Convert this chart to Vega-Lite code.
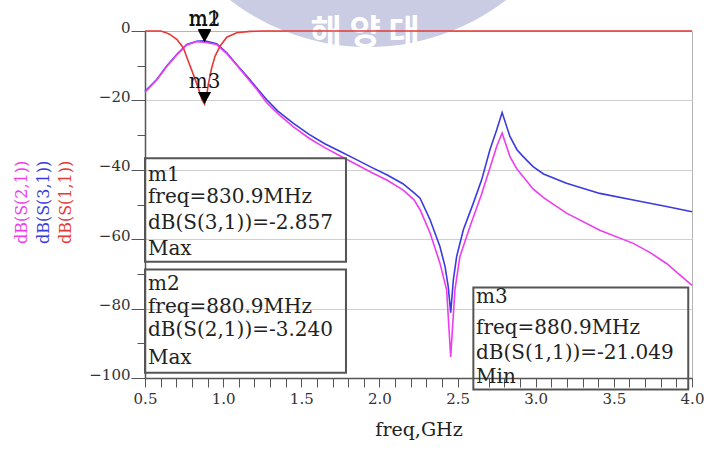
{
  "$schema": "https://vega.github.io/schema/vega-lite/v6.json",
  "width": 547,
  "height": 347,
  "autosize": {"type": "none"},
  "padding": {"left": 145, "top": 31, "right": 18, "bottom": 71},
  "background": "white",
  "config": {"view": {"stroke": "#b4b4b4", "strokeWidth": 1}, "font": "DejaVu Serif"},
  "datasets": {
    "curves": [
      {"trace": "S31", "f": 0.5, "dB": -17.4}, {"trace": "S31", "f": 0.575, "dB": -14.0}, {"trace": "S31", "f": 0.639, "dB": -10.1},
      {"trace": "S31", "f": 0.703, "dB": -6.8}, {"trace": "S31", "f": 0.767, "dB": -3.9}, {"trace": "S31", "f": 0.831, "dB": -2.95},
      {"trace": "S31", "f": 0.88, "dB": -2.86}, {"trace": "S31", "f": 0.959, "dB": -3.7}, {"trace": "S31", "f": 1.023, "dB": -6.3},
      {"trace": "S31", "f": 1.087, "dB": -9.7}, {"trace": "S31", "f": 1.151, "dB": -13.0}, {"trace": "S31", "f": 1.215, "dB": -16.4},
      {"trace": "S31", "f": 1.279, "dB": -19.8}, {"trace": "S31", "f": 1.35, "dB": -23.1}, {"trace": "S31", "f": 1.45, "dB": -26.6},
      {"trace": "S31", "f": 1.55, "dB": -29.8}, {"trace": "S31", "f": 1.65, "dB": -32.5}, {"trace": "S31", "f": 1.75, "dB": -34.7},
      {"trace": "S31", "f": 1.85, "dB": -37.0}, {"trace": "S31", "f": 1.95, "dB": -39.3}, {"trace": "S31", "f": 2.05, "dB": -41.5},
      {"trace": "S31", "f": 2.15, "dB": -44.0}, {"trace": "S31", "f": 2.22, "dB": -46.6}, {"trace": "S31", "f": 2.26, "dB": -48.2},
      {"trace": "S31", "f": 2.324, "dB": -54.4}, {"trace": "S31", "f": 2.387, "dB": -62.1}, {"trace": "S31", "f": 2.42, "dB": -67.9},
      {"trace": "S31", "f": 2.44, "dB": -73.6}, {"trace": "S31", "f": 2.456, "dB": -81.2}, {"trace": "S31", "f": 2.473, "dB": -71.7},
      {"trace": "S31", "f": 2.494, "dB": -65.0}, {"trace": "S31", "f": 2.537, "dB": -57.3}, {"trace": "S31", "f": 2.601, "dB": -49.6},
      {"trace": "S31", "f": 2.654, "dB": -42.9}, {"trace": "S31", "f": 2.707, "dB": -34.2}, {"trace": "S31", "f": 2.75, "dB": -28.5},
      {"trace": "S31", "f": 2.785, "dB": -23.5}, {"trace": "S31", "f": 2.835, "dB": -30.4}, {"trace": "S31", "f": 2.88, "dB": -34.2},
      {"trace": "S31", "f": 2.92, "dB": -36.2}, {"trace": "S31", "f": 2.983, "dB": -39.1}, {"trace": "S31", "f": 3.05, "dB": -41.2},
      {"trace": "S31", "f": 3.197, "dB": -43.9}, {"trace": "S31", "f": 3.41, "dB": -46.8}, {"trace": "S31", "f": 3.624, "dB": -48.7},
      {"trace": "S31", "f": 3.837, "dB": -50.6}, {"trace": "S31", "f": 4.0, "dB": -52.1},

      {"trace": "S21", "f": 0.5, "dB": -17.6}, {"trace": "S21", "f": 0.575, "dB": -14.1}, {"trace": "S21", "f": 0.639, "dB": -10.2},
      {"trace": "S21", "f": 0.703, "dB": -6.9}, {"trace": "S21", "f": 0.767, "dB": -4.0}, {"trace": "S21", "f": 0.831, "dB": -3.05},
      {"trace": "S21", "f": 0.881, "dB": -3.24}, {"trace": "S21", "f": 0.959, "dB": -3.9}, {"trace": "S21", "f": 1.023, "dB": -6.5},
      {"trace": "S21", "f": 1.087, "dB": -9.9}, {"trace": "S21", "f": 1.151, "dB": -13.3}, {"trace": "S21", "f": 1.215, "dB": -16.8},
      {"trace": "S21", "f": 1.279, "dB": -20.7}, {"trace": "S21", "f": 1.35, "dB": -23.8}, {"trace": "S21", "f": 1.45, "dB": -27.6},
      {"trace": "S21", "f": 1.55, "dB": -30.9}, {"trace": "S21", "f": 1.65, "dB": -33.6}, {"trace": "S21", "f": 1.75, "dB": -36.0},
      {"trace": "S21", "f": 1.85, "dB": -38.4}, {"trace": "S21", "f": 1.95, "dB": -40.8}, {"trace": "S21", "f": 2.05, "dB": -43.0},
      {"trace": "S21", "f": 2.15, "dB": -45.8}, {"trace": "S21", "f": 2.22, "dB": -48.6}, {"trace": "S21", "f": 2.26, "dB": -51.5},
      {"trace": "S21", "f": 2.324, "dB": -58.2}, {"trace": "S21", "f": 2.387, "dB": -66.9}, {"trace": "S21", "f": 2.43, "dB": -74.6},
      {"trace": "S21", "f": 2.456, "dB": -93.9}, {"trace": "S21", "f": 2.483, "dB": -74.6}, {"trace": "S21", "f": 2.515, "dB": -65.0},
      {"trace": "S21", "f": 2.58, "dB": -56.3}, {"trace": "S21", "f": 2.65, "dB": -47.5}, {"trace": "S21", "f": 2.7, "dB": -40.5},
      {"trace": "S21", "f": 2.75, "dB": -33.3}, {"trace": "S21", "f": 2.785, "dB": -29.4}, {"trace": "S21", "f": 2.835, "dB": -36.2},
      {"trace": "S21", "f": 2.88, "dB": -39.8}, {"trace": "S21", "f": 2.92, "dB": -42.0}, {"trace": "S21", "f": 2.983, "dB": -45.5},
      {"trace": "S21", "f": 3.05, "dB": -48.0}, {"trace": "S21", "f": 3.197, "dB": -52.5}, {"trace": "S21", "f": 3.41, "dB": -57.4},
      {"trace": "S21", "f": 3.624, "dB": -61.2}, {"trace": "S21", "f": 3.73, "dB": -63.8}, {"trace": "S21", "f": 3.837, "dB": -67.0},
      {"trace": "S21", "f": 4.0, "dB": -73.3},

      {"trace": "S11", "f": 0.5, "dB": 0}, {"trace": "S11", "f": 0.6, "dB": 0}, {"trace": "S11", "f": 0.63, "dB": -0.4},
      {"trace": "S11", "f": 0.66, "dB": -1.0}, {"trace": "S11", "f": 0.703, "dB": -2.4}, {"trace": "S11", "f": 0.745, "dB": -4.8},
      {"trace": "S11", "f": 0.777, "dB": -8.7}, {"trace": "S11", "f": 0.809, "dB": -12.5}, {"trace": "S11", "f": 0.841, "dB": -16.4},
      {"trace": "S11", "f": 0.865, "dB": -19.8}, {"trace": "S11", "f": 0.881, "dB": -21.049}, {"trace": "S11", "f": 0.895, "dB": -18.5},
      {"trace": "S11", "f": 0.905, "dB": -15.4}, {"trace": "S11", "f": 0.927, "dB": -10.6}, {"trace": "S11", "f": 0.948, "dB": -7.3},
      {"trace": "S11", "f": 0.98, "dB": -4.4}, {"trace": "S11", "f": 1.023, "dB": -1.8}, {"trace": "S11", "f": 1.087, "dB": -0.5},
      {"trace": "S11", "f": 1.172, "dB": -0.1}, {"trace": "S11", "f": 1.25, "dB": 0}, {"trace": "S11", "f": 2.0, "dB": 0},
      {"trace": "S11", "f": 3.0, "dB": 0}, {"trace": "S11", "f": 4.0, "dB": 0}
    ],
    "watermark": [{"f": 1.927, "dB": 60.5}],
    "wmtext": [{"f": 1.908, "dB": -3.8, "text": "해 양 대"}],
    "boxes": [
      {"box": "m1", "f": 0.5, "f2": 1.786, "dB": -36.7, "dB2": -66.5},
      {"box": "m2", "f": 0.5, "f2": 1.786, "dB": -68.7, "dB2": -98.5},
      {"box": "m3", "f": 2.601, "f2": 3.976, "dB": -73.9, "dB2": -103.3}
    ],
    "boxtext": [
      {"box": "m1", "f": 0.519, "dB": -41.5, "text": "m1"},
      {"box": "m1", "f": 0.519, "dB": -47.8, "text": "freq=830.9MHz"},
      {"box": "m1", "f": 0.519, "dB": -55.2, "text": "dB(S(3,1))=-2.857"},
      {"box": "m1", "f": 0.519, "dB": -62.8, "text": "Max"},
      {"box": "m2", "f": 0.519, "dB": -73.0, "text": "m2"},
      {"box": "m2", "f": 0.519, "dB": -79.5, "text": "freq=880.9MHz"},
      {"box": "m2", "f": 0.519, "dB": -86.2, "text": "dB(S(2,1))=-3.240"},
      {"box": "m2", "f": 0.519, "dB": -94.3, "text": "Max"},
      {"box": "m3", "f": 2.618, "dB": -76.6, "text": "m3"},
      {"box": "m3", "f": 2.618, "dB": -85.7, "text": "freq=880.9MHz"},
      {"box": "m3", "f": 2.618, "dB": -92.9, "text": "dB(S(1,1))=-21.049"},
      {"box": "m3", "f": 2.618, "dB": -99.6, "text": "Min"}
    ],
    "ytitles": [
      {"trace": "S21", "f": -0.287, "dB": -49.4, "text": "dB(S(2,1))"},
      {"trace": "S31", "f": -0.146, "dB": -49.4, "text": "dB(S(3,1))"},
      {"trace": "S11", "f": -0.005, "dB": -49.4, "text": "dB(S(1,1))"}
    ],
    "markers": [
      {"name": "m1", "f": 0.8809, "dB": -2.857},
      {"name": "m2", "f": 0.8809, "dB": -3.24},
      {"name": "m3", "f": 0.8809, "dB": -21.049}
    ]
  },
  "encoding": {
    "x": {
      "field": "f", "type": "quantitative",
      "scale": {"domain": [0.5, 4.0], "nice": false, "zero": false},
      "axis": {
        "title": "freq,GHz",
        "values": [0.5,0.6,0.7,0.8,0.9,1.0,1.1,1.2,1.3,1.4,1.5,1.6,1.7,1.8,1.9,2.0,2.1,2.2,2.3,2.4,2.5,2.6,2.7,2.8,2.9,3.0,3.1,3.2,3.3,3.4,3.5,3.6,3.7,3.8,3.9,4.0],
        "labelExpr": "abs(datum.value*2 - round(datum.value*2)) < 0.01 ? format(datum.value, '.1f') : ''",
        "grid": false,
        "tickSize": 9, "tickColor": "#555", "tickWidth": 1,
        "domainColor": "#555", "domainWidth": 1.5,
        "labelFont": "DejaVu Serif", "labelFontSize": 15, "labelColor": "#333", "labelPadding": 4,
        "labelOverlap": false, "labelFlush": false, "labelBound": false,
        "titleFont": "DejaVu Serif", "titleFontSize": 19, "titleFontWeight": "normal", "titleColor": "#222", "titlePadding": 14
      }
    },
    "y": {
      "field": "dB", "type": "quantitative",
      "scale": {"domain": [-100, 0], "nice": false, "zero": false},
      "axis": {
        "title": null,
        "values": [-100,-90,-80,-70,-60,-50,-40,-30,-20,-10,0],
        "labelExpr": "datum.value % 20 == 0 ? format(datum.value, 'd') : ''",
        "tickSize": {"condition": {"test": "datum.value % 20 == 0", "value": 14}, "value": 8},
        "tickColor": "#555",
        "grid": true,
        "gridColor": {"condition": {"test": "datum.value % 20 == 0 && datum.value > -100 && datum.value < 0", "value": "#cfcfcf"}, "value": "transparent"},
        "domainColor": "#555", "domainWidth": 1.5,
        "labelFont": "DejaVu Serif", "labelFontSize": 15, "labelColor": "#333",
        "labelPadding": 1, "labelBaseline": "middle", "labelOffset": -4,
        "labelOverlap": false, "labelBound": false, "labelFlush": false
      }
    }
  },
  "layer": [
    {
      "data": {"name": "watermark"},
      "mark": {"type": "point", "shape": "circle", "filled": true, "size": 204304, "color": "#c9cce3", "opacity": 1}
    },
    {
      "data": {"name": "wmtext"},
      "mark": {"type": "text", "font": "Noto Sans CJK KR", "fontSize": 34, "fontWeight": "bold", "color": "white", "align": "center", "baseline": "alphabetic"},
      "encoding": {"text": {"field": "text"}}
    },
    {
      "data": {"name": "curves"},
      "mark": {"type": "line", "strokeWidth": 1.6},
      "encoding": {
        "color": {"field": "trace", "type": "nominal", "scale": {"domain": ["S21", "S31", "S11"], "range": ["#f03cf0", "#3a3ae0", "#e53935"]}, "legend": null},
        "order": {"field": "f", "type": "quantitative"}
      }
    },
    {
      "data": {"name": "boxes"},
      "mark": {"type": "rect", "filled": false, "stroke": "#555", "strokeWidth": 2},
      "encoding": {"x2": {"field": "f2"}, "y2": {"field": "dB2"}}
    },
    {
      "data": {"name": "boxtext"},
      "mark": {"type": "text", "font": "DejaVu Serif", "fontSize": 20, "color": "#222", "align": "left", "baseline": "middle"},
      "encoding": {"text": {"field": "text"}}
    },
    {
      "data": {"name": "ytitles"},
      "mark": {"type": "text", "font": "DejaVu Serif", "fontSize": 16, "angle": 270, "align": "center", "baseline": "middle"},
      "encoding": {
        "text": {"field": "text"},
        "color": {"field": "trace", "type": "nominal", "legend": null}
      }
    },
    {
      "data": {"name": "markers"},
      "mark": {"type": "point", "shape": "M-0.55,-1L0.55,-1L0,0Z", "filled": true, "size": 576, "color": "black", "opacity": 1}
    },
    {
      "data": {"name": "markers"},
      "mark": {"type": "text", "font": "DejaVu Serif", "fontSize": 20, "color": "#111", "align": "center", "baseline": "middle", "dy": -22},
      "encoding": {"text": {"field": "name"}}
    }
  ]
}
